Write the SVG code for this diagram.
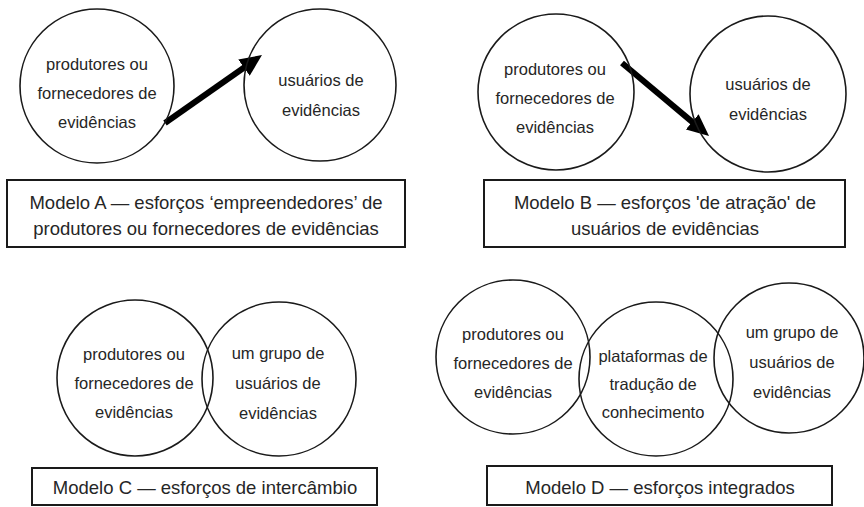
<svg xmlns="http://www.w3.org/2000/svg" width="864" height="507" viewBox="0 0 864 507">
<style>
.c{fill:none;stroke:#1a1a1a;stroke-width:1.6}
.b{fill:#fff;stroke:#1a1a1a;stroke-width:2}
.t{font-family:"Liberation Sans",Arial,sans-serif;font-size:16.5px;fill:#262626;text-anchor:middle}
.bt{font-family:"Liberation Sans",Arial,sans-serif;font-size:18.5px;fill:#262626;text-anchor:middle}
.a{stroke:#000;stroke-width:6;fill:none}
</style>
<defs>
<marker id="ah" viewBox="0 0 22 20" refX="2" refY="10" markerWidth="22" markerHeight="20" markerUnits="userSpaceOnUse" orient="auto">
<path d="M0,0 L22,10 L0,20 z" fill="#000"/>
</marker>
</defs>
<rect width="864" height="507" fill="#fff"/>
<g id="connectors">
<line class="a" x1="165" y1="123" x2="245.6" y2="66.5" marker-end="url(#ah)"/>
<line class="a" x1="622" y1="63" x2="693.7" y2="123.1" marker-end="url(#ah)"/>
</g>
<g id="a-produtores">
<circle class="c" cx="97" cy="86" r="77"/>
<text class="t" x="97" y="70">produtores ou</text>
<text class="t" x="97" y="99">fornecedores de</text>
<text class="t" x="97" y="128">evidências</text>
</g>
<g id="a-usuarios">
<circle class="c" cx="320" cy="85" r="76"/>
<text class="t" x="321" y="86">usuários de</text>
<text class="t" x="321" y="116">evidências</text>
</g>
<g id="a-label">
<rect class="b" x="7" y="180" width="398" height="67"/>
<text class="bt" x="206" y="209">Modelo A — esforços ‘empreendedores’ de</text>
<text class="bt" x="206" y="235">produtores ou fornecedores de evidências</text>
</g>
<g id="b-produtores">
<circle class="c" cx="556" cy="92" r="78"/>
<text class="t" x="555" y="75">produtores ou</text>
<text class="t" x="555" y="104">fornecedores de</text>
<text class="t" x="555" y="133">evidências</text>
</g>
<g id="b-usuarios">
<circle class="c" cx="768" cy="94" r="78"/>
<text class="t" x="768" y="90">usuários de</text>
<text class="t" x="768" y="120">evidências</text>
</g>
<g id="b-label">
<rect class="b" x="484" y="180" width="361" height="67"/>
<text class="bt" x="665" y="209">Modelo B — esforços 'de atração' de</text>
<text class="bt" x="665" y="235">usuários de evidências</text>
</g>
<g id="c-produtores">
<circle class="c" cx="135" cy="378" r="78"/>
<text class="t" x="134" y="360">produtores ou</text>
<text class="t" x="134" y="389">fornecedores de</text>
<text class="t" x="134" y="418">evidências</text>
</g>
<g id="c-usuarios">
<circle class="c" cx="279" cy="379" r="77"/>
<text class="t" x="278" y="359">um grupo de</text>
<text class="t" x="278" y="389">usuários de</text>
<text class="t" x="278" y="419">evidências</text>
</g>
<g id="c-label">
<rect class="b" x="32" y="468" width="345" height="37"/>
<text class="bt" x="205" y="494">Modelo C — esforços de intercâmbio</text>
</g>
<g id="d-produtores">
<circle class="c" cx="513" cy="357" r="77"/>
<text class="t" x="513" y="340">produtores ou</text>
<text class="t" x="513" y="369">fornecedores de</text>
<text class="t" x="513" y="398">evidências</text>
</g>
<g id="d-plataformas">
<circle class="c" cx="656" cy="379" r="77"/>
<text class="t" x="653" y="362">plataformas de</text>
<text class="t" x="653" y="390">tradução de</text>
<text class="t" x="653" y="418">conhecimento</text>
</g>
<g id="d-usuarios">
<circle class="c" cx="789" cy="358" r="75"/>
<text class="t" x="792" y="338">um grupo de</text>
<text class="t" x="792" y="368">usuários de</text>
<text class="t" x="792" y="398">evidências</text>
</g>
<g id="d-label">
<rect class="b" x="487" y="466" width="345" height="39"/>
<text class="bt" x="660" y="494">Modelo D — esforços integrados</text>
</g>
</svg>
